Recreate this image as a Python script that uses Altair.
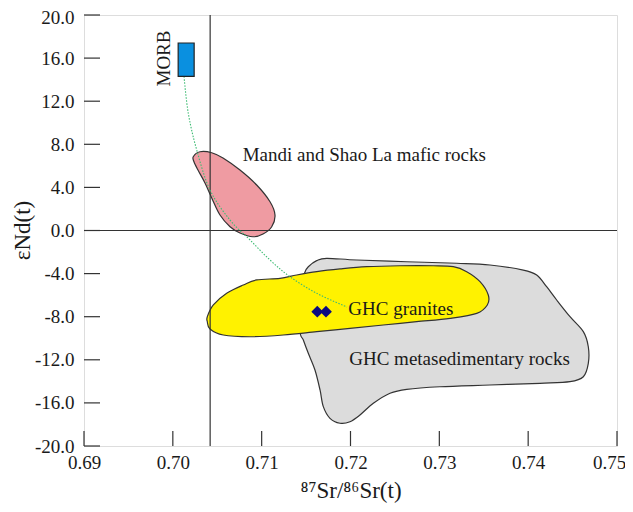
import altair as alt
import pandas as pd

# ---- data ----
x_ticks = [0.69, 0.70, 0.71, 0.72, 0.73, 0.74, 0.75]
y_ticks = [20, 16, 12, 8, 4, 0, -4, -8, -12, -16, -20]

bulk_earth_sr = [0.7042]
chur_nd = [0.0]

morb_sr = [0.7006, 0.7024]
morb_nd = [14.3, 17.4]

mandi_sr = [0.70230, 0.70306, 0.70438, 0.70565, 0.70756, 0.70944, 0.71094, 0.71150,
            0.71113, 0.71015, 0.70902, 0.70756, 0.70644, 0.70531, 0.70438, 0.70362,
            0.70283, 0.70238]
mandi_nd = [6.85, 7.31, 7.22, 6.73, 5.61, 4.22, 2.67, 1.44,
            0.35, -0.33, -0.58, -0.23, 0.35, 1.44, 3.02, 4.41,
            5.61, 6.38]

granite_sr = [0.70388, 0.70456, 0.70606, 0.70793, 0.70944, 0.71206, 0.71394, 0.71620,
              0.71882, 0.72182, 0.72557, 0.72932, 0.73157, 0.73308, 0.73458, 0.73551,
              0.73540, 0.73421, 0.73120, 0.72745, 0.72369, 0.71994, 0.71620, 0.71244,
              0.70869, 0.70568, 0.70418, 0.70388]
granite_nd = [-8.00, -6.91, -5.83, -5.06, -4.59, -4.44, -4.13, -3.82,
              -3.57, -3.36, -3.27, -3.27, -3.36, -3.82, -4.75, -5.99,
              -6.91, -7.69, -8.15, -8.46, -8.77, -9.08, -9.39, -9.70,
              -9.86, -9.70, -9.14, -8.46]

meta_sr = [0.71525, 0.71619, 0.71732, 0.72070, 0.72633, 0.73196, 0.73570, 0.73945,
           0.74096, 0.74208, 0.74321, 0.74471, 0.74621, 0.74677, 0.74677, 0.74621,
           0.74471, 0.74133, 0.73570, 0.73007, 0.72633, 0.72445, 0.72257, 0.72107,
           0.71994, 0.71882, 0.71769, 0.71694, 0.71657, 0.71600, 0.71525, 0.71469,
           0.71432, 0.71454, 0.71488]
meta_nd = [-3.36, -2.80, -2.58, -2.74, -2.90, -3.04, -3.20, -3.67,
           -4.13, -5.22, -6.45, -8.00, -9.39, -10.79, -12.33, -13.57,
           -14.03, -14.18, -14.34, -14.50, -14.74, -15.11, -16.04, -17.12,
           -17.75, -17.89, -17.43, -16.35, -14.80, -12.95, -11.40, -10.16,
           -9.24, -5.06, -3.85]

mixing_sr = [0.70126, 0.70174, 0.70269, 0.70418, 0.70644, 0.70869, 0.71094, 0.71319,
             0.71620, 0.71961]
mixing_nd = [14.3, 10.88, 7.47, 3.76, 0.97, -0.88, -2.74, -4.29, -5.83, -7.10]

sample_sr = [0.71626, 0.71724]
sample_nd = [-7.53, -7.53]

label_text = ["Mandi and Shao La mafic rocks", "GHC granites", "GHC metasedimentary rocks"]
label_sr = [0.70786, 0.71975, 0.71986]
label_nd = [7.0, -7.29, -11.96]

morb_label = ["MORB"]
morb_label_sr = [0.69906]
morb_label_nd = [15.96]

# ---- styling ----
W, H = 533, 431
SERIF = "Liberation Serif, Times New Roman, serif"
INK = "#1a1a1a"
LINE = "#333333"

xscale = alt.Scale(domain=[0.69, 0.75], nice=False, zero=False)
yscale = alt.Scale(domain=[-20, 20], nice=False, zero=False)

xaxis = alt.Axis(values=x_ticks, format=".2f", labelFont=SERIF, labelFontSize=19,
                 labelColor=INK, labelPadding=7, ticks=False, tickSize=0, domain=False,
                 grid=False, labelFlush=False,
                 labelOffset={"condition": {"test": "datum.value > 0.745", "value": -8},
                              "value": 0},
                 title="⁸⁷Sr/⁸⁶Sr(t)", titleFont=SERIF,
                 titleFontSize=23, titleFontWeight="normal", titleColor=INK,
                 titleY=44, titleBaseline="middle")
yaxis = alt.Axis(values=y_ticks,
                 labelExpr="datum.value < 0 ? '-' + format(abs(datum.value), '.1f') : format(datum.value, '.1f')",
                 labelFont=SERIF, labelFontSize=19, labelColor=INK, labelPadding=10,
                 ticks=False, tickSize=0, domain=False, grid=False, labelFlush=False,
                 labelOffset={"condition": {"test": "datum.value > 19", "value": 2},
                              "value": 0},
                 title="εNd(t)", titleFont=SERIF, titleFontSize=23,
                 titleFontWeight="normal", titleColor=INK, titleAngle=270,
                 titleX=-62, titleY=215, titleAlign="center", titleBaseline="middle")

X = alt.X("sr:Q", scale=xscale, axis=xaxis)
Y = alt.Y("nd:Q", scale=yscale, axis=yaxis)


def poly(sr, nd, fill):
    df = pd.DataFrame({"sr": sr, "nd": nd, "i": range(len(sr))})
    return alt.Chart(df).mark_line(interpolate="cardinal-closed", fill=fill,
                                   stroke=LINE, strokeWidth=1.2).encode(
        x=X, y=Y, order="i:Q")


meta = poly(meta_sr, meta_nd, "#dcdcdc")
granite = poly(granite_sr, granite_nd, "#fff200")
mandi = poly(mandi_sr, mandi_nd, "#ef9ba2")

mix_df = pd.DataFrame({"sr": mixing_sr, "nd": mixing_nd, "i": range(len(mixing_sr))})
mixing = alt.Chart(mix_df).mark_line(interpolate="cardinal", color="#3dbb73",
                                     strokeWidth=1.1, strokeDash=[1.5, 1.5]).encode(
    x=X, y=Y, order="i:Q")

morb_df = pd.DataFrame({"sr": [morb_sr[0]], "sr2": [morb_sr[1]],
                        "nd": [morb_nd[0]], "nd2": [morb_nd[1]]})
morb = alt.Chart(morb_df).mark_rect(fill="#0a90e0", stroke="#222222", strokeWidth=1.2).encode(
    x=X, x2="sr2:Q", y=Y, y2="nd2:Q")

samples = alt.Chart(pd.DataFrame({"sr": sample_sr, "nd": sample_nd})).mark_point(
    shape="diamond", filled=True, size=140, color="#0a0a80", opacity=1).encode(x=X, y=Y)

vline = alt.Chart(pd.DataFrame({"sr": bulk_earth_sr})).mark_rule(
    color=LINE, strokeWidth=1.2).encode(x=X)
hline = alt.Chart(pd.DataFrame({"nd": chur_nd})).mark_rule(
    color=LINE, strokeWidth=1.2).encode(y=Y)

xtick_rules = alt.Chart(pd.DataFrame({"sr": x_ticks})).mark_rule(
    color=LINE, strokeWidth=1.2).encode(x=X, y=alt.value(H - 15), y2=alt.value(H))
ytick_rules = alt.Chart(pd.DataFrame({"nd": y_ticks})).mark_rule(
    color=LINE, strokeWidth=1.2).encode(y=Y, x=alt.value(0), x2=alt.value(16))

labels = alt.Chart(pd.DataFrame({"sr": label_sr, "nd": label_nd, "t": label_text})).mark_text(
    align="left", baseline="middle", font=SERIF, fontSize=19, color=INK).encode(
    x=X, y=Y, text="t:N")

morb_text = alt.Chart(pd.DataFrame({"sr": morb_label_sr, "nd": morb_label_nd,
                                    "t": morb_label})).mark_text(
    align="center", baseline="middle", font=SERIF, fontSize=19, color=INK, angle=270).encode(
    x=X, y=Y, text="t:N")

chart = alt.layer(
    meta, granite, mandi, vline, hline, mixing, morb, samples, labels, morb_text,
    xtick_rules, ytick_rules
).properties(
    width=W, height=H,
    autosize=alt.AutoSizeParams(type="none"),
    padding={"left": 76, "top": 7, "right": 8, "bottom": 57},
).configure_view(stroke=LINE, strokeWidth=1.2).configure_axis(
    labelFont=SERIF, titleFont=SERIF
).configure(background="white")

chart.save("out.html", embed_options={"renderer": "svg", "actions": False})
